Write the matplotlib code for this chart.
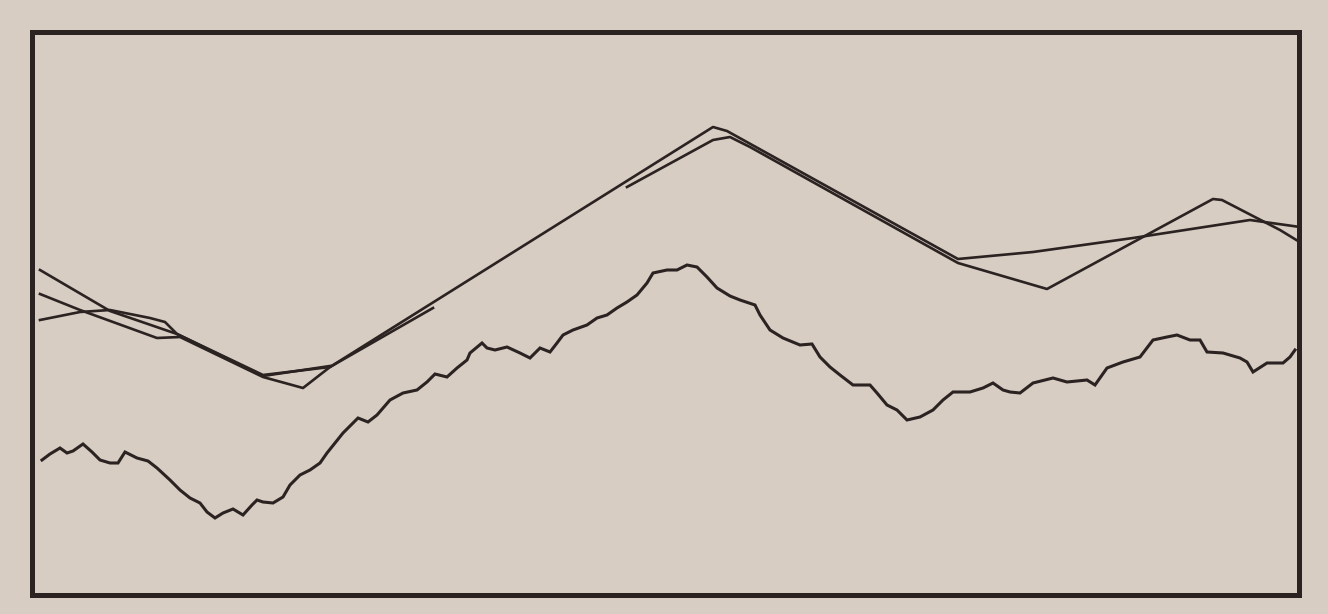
import numpy as np
import matplotlib
matplotlib.use('Agg')
import matplotlib.pyplot as plt

# noisy observed series (time, level)
obs_t = [42, 50, 60, 67, 73, 83, 92, 100, 110, 118, 125, 137, 148, 157, 170, 180, 190, 200, 207, 215,
         223, 233, 243, 252, 257, 263, 273, 283, 290, 300, 310, 320, 327, 343, 358, 368, 377, 390, 403, 417,
         427, 435, 447, 457, 467, 470, 482, 487, 495, 507, 520, 530, 540, 550, 557, 563, 573, 587, 597,
         607, 617, 627, 637, 647, 653, 667, 677, 687, 697, 707, 717, 730, 740, 755, 760, 770, 783, 800, 812,
         820, 830, 840, 853, 870, 877, 887, 897, 907, 920, 933, 943, 953, 970, 983, 993, 1003, 1010, 1020, 1033,
         1053, 1067, 1087, 1095, 1107, 1123, 1140, 1153, 1167, 1177, 1190, 1200, 1207, 1223, 1240, 1247, 1253, 1267, 1283, 1290,
         1295]
obs_level = [140, 146, 152, 147, 149, 156, 148, 140, 137, 137, 148, 142, 139, 132, 120, 110, 102, 97, 88, 82,
             87, 91, 85, 95, 100, 98, 97, 103, 115, 125, 130, 137, 147, 167, 182, 178, 185, 200, 207, 210,
             218, 226, 223, 232, 240, 247, 257, 252, 250, 253, 247, 242, 252, 248, 257, 265, 270, 275, 282,
             285, 292, 298, 305, 317, 327, 330, 330, 335, 333, 323, 312, 304, 300, 295, 285, 270, 262, 255, 256,
             243, 233, 225, 215, 215, 207, 195, 190, 180, 183, 190, 200, 208, 208, 212, 217, 210, 208, 207, 217,
             222, 218, 220, 215, 232, 238, 243, 260, 263, 265, 260, 260, 248, 247, 242, 238, 228, 237, 237, 243,
             250]

# piecewise-linear estimates (NaN = gap)
est1_t = [40, 110, 177, 263, 330, 713, 727, 958, 1033, 1133, 1250, 1300]
est1_level = [330, 289, 266, 225, 233, 473, 469, 341, 348, 362, 380, 373]

est2_t = [40, 80, 157, 180, 263, 303, 330, 433, 530, 627, 713, 730, 750, 958, 1047, 1213, 1222, 1280, 1298]
est2_level = [306, 290, 262, 263, 223, 212, 233, 292, np.nan, 413, 460, 463, 453, 337, 311, 401, 400, 370, 359]

est3_t = [40, 80, 110, 150, 165, 177, 263, 330]
est3_level = [280, 288, 290, 282, 278, 266, 224, 234]

paper = '#d7cdc2'
ink = '#2b2222'

fig = plt.figure(figsize=(13.28, 6.14), dpi=100, facecolor=paper)
ax = fig.add_axes([32 / 1328, 19 / 614, 1267 / 1328, 563 / 614])
ax.set_facecolor(paper)

ax.plot(obs_t, obs_level, color=ink, lw=2.2, solid_joinstyle='miter')
ax.plot(est1_t, est1_level, color=ink, lw=1.9)
ax.plot(est2_t, est2_level, color=ink, lw=1.9)
ax.plot(est3_t, est3_level, color=ink, lw=1.9)

ax.set_xlim(32, 1299)
ax.set_ylim(5, 568)
ax.set_xticks([])
ax.set_yticks([])
for s in ax.spines.values():
    s.set_linewidth(3.6)
    s.set_color(ink)

fig.savefig('out.png', dpi=100, facecolor=paper)
